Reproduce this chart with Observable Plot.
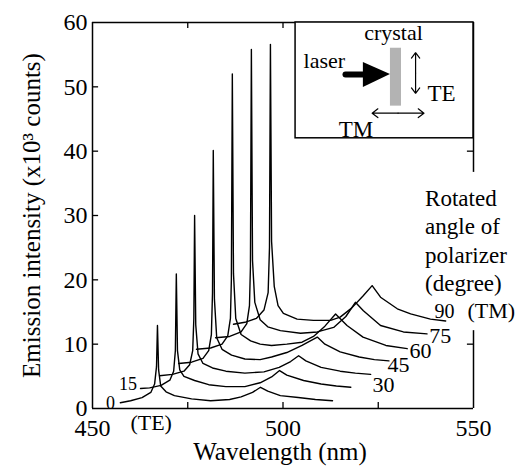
<!DOCTYPE html>
<html><head><meta charset="utf-8">
<script src="https://cdn.jsdelivr.net/npm/d3@7"></script>
<script src="https://cdn.jsdelivr.net/npm/@observablehq/plot@0.6"></script>
<style>body{margin:0;background:#fff}</style>
</head><body><div id="chart"></div>
<script>
// Rotated angle of polarizer (degree)
const angles = [0, 15, 30, 45, 60, 75, 90];
// Spectra [wavelength nm, intensity x10^3 counts] as plotted (offset waterfall)
const spec0 = [[457.3,0.9],[460,1.2],[463,1.7],[465.3,2.5],[466.3,3.8],[466.8,6.5],[467.05,12.9],[467.35,6.0],[467.9,3.5],[469.3,2.6],[471.5,2.0],[476,1.5],[481,1.2],[486,1.4],[489,1.8],[492,2.5],[494.1,3.3],[496,2.7],[499.3,2.0],[504,1.7],[508.5,1.4],[513,1.2]];
const spec15 = [[462.6,3.1],[465,3.2],[468,3.6],[470.3,4.4],[471.3,5.8],[471.75,9],[472.0,20.9],[472.3,9],[472.9,6.0],[474,5.0],[476.8,4.35],[480.5,3.7],[485,3.4],[490,3.4],[494,4.0],[497,4.9],[499.1,5.9],[501,5.2],[505.4,4.35],[510,3.8],[514,3.5],[517.8,3.3]];
const spec30 = [[467.6,5.1],[471,5.3],[474,5.8],[475.5,6.8],[476.3,9],[476.6,14],[476.8,30],[477.1,13],[477.7,8.5],[479,7.0],[481.5,6.3],[485,5.8],[490,5.5],[495,5.7],[499,6.4],[502,7.3],[504.1,8.2],[506,7.4],[510,6.4],[515,5.8],[519,5.5],[523,5.3]];
const spec45 = [[472.6,7.0],[476,7.2],[479,7.8],[480.5,9.0],[481.2,11.5],[481.5,18],[481.7,40.1],[482.0,17],[482.6,11],[484,9.2],[486.5,8.3],[490,7.7],[494,7.6],[497,8.0],[501,8.7],[505,9.8],[509,11.1],[511,10.0],[515,8.8],[520,8.0],[524,7.6],[527.8,7.4]];
const spec60 = [[477.3,9.2],[481,9.4],[484,10.0],[485.5,11.3],[486.2,14],[486.45,20],[486.7,52],[487.0,21],[487.6,14],[489,11.5],[491.5,10.5],[494,10.0],[497,9.8],[501,10.0],[505,10.3],[508,11.2],[511,12.8],[513.8,14.7],[516.8,12.9],[521,11.1],[527,9.8],[532.6,9.3]];
const spec75 = [[482.3,11.0],[486,11.2],[489,11.9],[490.5,13.2],[491.2,16],[491.45,22],[491.7,55.8],[492.0,23],[492.6,16.5],[494,13.8],[496,12.7],[499.3,12.1],[504.6,11.7],[509,11.9],[513.3,12.6],[516.5,14.3],[519,16.5],[521.1,15.2],[525.6,12.9],[531.6,11.9],[537.8,11.6]];
const spec90 = [[487.0,13.1],[490,13.4],[493,14.0],[495,15.3],[496.1,18],[496.45,25],[496.7,56.6],[497.0,26],[497.7,19],[498.7,16],[500.1,14.8],[503.7,13.9],[508,13.7],[512.5,13.7],[515,14.2],[518,15.6],[521,17.5],[523.4,19.1],[525.6,17.3],[530,15.5],[533.5,14.7],[538.7,13.9],[542.7,13.6]];

const xTickLabels = [450, 500, 550];
const xTicksBottom = [475, 500, 525];
const xTicksTop = [475, 500];
const yTickLabels = [0, 10, 20, 30, 40, 50, 60];
const yTicksLeft = [10, 20, 30, 40, 50];
const yTicksRight = [10, 40, 50];

// curve labels
const leftLabels = [{t:"0", x:454.7, y:0.86}, {t:"15", x:459.3, y:3.73}];
const rightLabels = [{t:"30", x:526.4, y:3.65},{t:"45", x:530.3, y:6.77},{t:"60", x:536.1, y:8.94},{t:"75", x:541.3, y:11.28}];

const series = [spec0, spec15, spec30, spec45, spec60, spec75, spec90];
const rows = series.flatMap((s, i) => s.map(([w, v]) => ({angle: angles[i], w, v})));

const font = "'Liberation Serif', 'DejaVu Serif', serif";

// inset diagram
const inset = [{x1:503.3, x2:550, y1:42.0, y2:60}];
const crystal = [{x1:528.2, x2:531.1, y1:47.0, y2:56.0}];
const laserShaft = [{x:516.4, y:51.9},{x:521.6, y:51.9}];
const laserHead = [{x:521.1, y1:49.9, y2:53.8},{x:528.2, y1:51.9, y2:51.9}];
const arrowsTE = [{x1:534.8,y1:52.15,x2:534.8,y2:55.3},{x1:534.8,y1:52.15,x2:534.8,y2:49.0}];
const arrowsTM = [{x1:530.2,y1:45.9,x2:523.4,y2:45.9},{x1:530.2,y1:45.9,x2:537.0,y2:45.9}];

const chart = Plot.plot({
  width: 524, height: 468,
  marginLeft: 92, marginRight: 51, marginTop: 22, marginBottom: 60,
  style: {fontFamily: font, fontSize: "24px", background: "white", color: "black", overflow: "visible"},
  x: {domain: [450, 550], ticks: xTickLabels, tickSize: 0, tickPadding: 10, label: null},
  y: {domain: [0, 60], ticks: yTickLabels, tickSize: 0, tickPadding: 5, label: null},
  marks: [
    Plot.line(rows, {x: "w", y: "v", z: "angle", stroke: "black", strokeWidth: 1.4, strokeLinejoin: "round"}),
    // frame
    Plot.ruleY([0, 60], {x1: 450, x2: 550, stroke: "black", strokeWidth: 1.5}),
    Plot.ruleX([450], {y1: 0, y2: 60, stroke: "black", strokeWidth: 1.5}),
    Plot.ruleX([550], {y1: 0, y2: 12.1, stroke: "black", strokeWidth: 1.5}),
    Plot.ruleX([550], {y1: 36.7, y2: 60, stroke: "black", strokeWidth: 1.5}),
    // inward ticks
    Plot.ruleX(xTicksBottom, {y1: 0, y2: 0.95, stroke: "black", strokeWidth: 1.3}),
    Plot.ruleX(xTicksTop, {y1: 59.05, y2: 60, stroke: "black", strokeWidth: 1.3}),
    Plot.ruleY(yTicksLeft, {x1: 450, x2: 451.6, stroke: "black", strokeWidth: 1.3}),
    Plot.ruleY(yTicksRight, {x1: 548.4, x2: 550, stroke: "black", strokeWidth: 1.3}),
    // inset
    Plot.rect(inset, {x1: "x1", x2: "x2", y1: "y1", y2: "y2", fill: "white", stroke: "black", strokeWidth: 1.5}),
    Plot.rect(crystal, {x1: "x1", x2: "x2", y1: "y1", y2: "y2", fill: "#b3b3b3"}),
    Plot.line(laserShaft, {x: "x", y: "y", stroke: "black", strokeWidth: 6}),
    Plot.areaY(laserHead, {x: "x", y1: "y1", y2: "y2", fill: "black"}),
    Plot.arrow(arrowsTE, {x1: "x1", y1: "y1", x2: "x2", y2: "y2", stroke: "black", strokeWidth: 1.2, headLength: 9, headAngle: 75}),
    Plot.arrow(arrowsTM, {x1: "x1", y1: "y1", x2: "x2", y2: "y2", stroke: "black", strokeWidth: 1.2, headLength: 9, headAngle: 75}),
    Plot.text(["crystal"], {x: 529.0, y: 58.3, fontSize: 22, textAnchor: "middle"}),
    Plot.text(["laser"], {x: 505.4, y: 54.0, fontSize: 22, textAnchor: "start"}),
    Plot.text(["TE"], {x: 537.9, y: 49.0, fontSize: 23, textAnchor: "start"}),
    Plot.text(["TM"], {x: 514.6, y: 43.3, fontSize: 23, textAnchor: "start"}),
    // legend text
    Plot.text(["Rotated\nangle of\npolarizer\n(degree)"], {x: 537.3, y: 34.58, fontSize: 23, textAnchor: "start", lineAnchor: "top", lineHeight: 1.23}),
    Plot.text(leftLabels, {x: "x", y: "y", text: "t", fontSize: 18}),
    Plot.text(rightLabels, {x: "x", y: "y", text: "t", fontSize: 22}),
    Plot.text(["90"], {x: 542.4, y: 15.1, fontSize: 20}),
    Plot.text(["(TM)"], {x: 548.4, y: 15.1, fontSize: 22, textAnchor: "start"}),
    Plot.text(["(TE)"], {x: 465.4, y: -2.25, fontSize: 22}),
    // axis titles
    Plot.text(["Emission intensity (x10\u00b3 counts)"], {frameAnchor: "left", rotate: -90, dx: -61, fontSize: 25, textAnchor: "middle", lineAnchor: "middle"}),
    Plot.text(["Wavelength (nm)"], {frameAnchor: "bottom", dx: -3, dy: 43, fontSize: 25, textAnchor: "middle", lineAnchor: "middle"})
  ]
});
document.getElementById("chart").appendChild(chart);
</script>
</body></html>
